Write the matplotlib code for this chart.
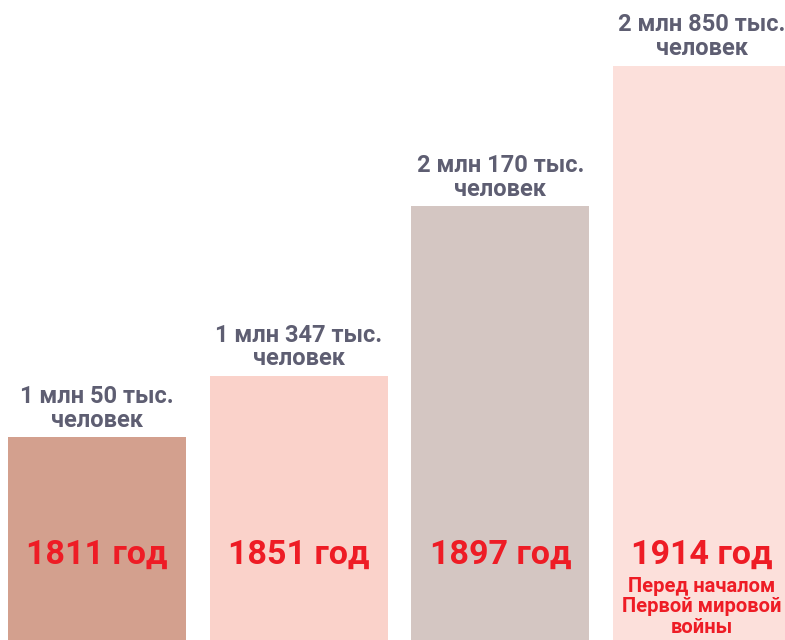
import matplotlib.pyplot as plt

years = ["1811 год", "1851 год", "1897 год", "1914 год"]
population = [1050, 1347, 2170, 2850]  # тыс. человек
labels = ["1 млн 50 тыс.\nчеловек", "1 млн 347 тыс.\nчеловек",
          "2 млн 170 тыс.\nчеловек", "2 млн 850 тыс.\nчеловек"]
note = "Перед началом\nПервой мировой\nвойны"
colors = ["#D3A08E", "#FAD2CA", "#D4C6C2", "#FCE0DB"]

plt.rcParams['font.family'] = ['Roboto', 'DejaVu Sans']

fig = plt.figure(figsize=(7.85, 6.4), dpi=100)
ax = fig.add_axes([0, 0, 1, 1])
x = range(len(years))
ax.bar(x, population, width=0.883, color=colors, bottom=0)
ax.set_xlim(-0.481, 3.411)
ax.set_ylim(68, 68 + 640 / 0.2064)
ax.axis("off")

for i, v in enumerate(population):
    ax.annotate(labels[i], (i, v), xytext=(0, 4), textcoords="offset points",
                ha="center", va="bottom", fontsize=17, fontweight="bold",
                color="#5E5E72", linespacing=1.05)
    ax.annotate(years[i], (i, 68), xytext=(0, 61), textcoords="offset points",
                ha="center", va="center", fontsize=24.5, fontweight="bold",
                color="#EE1C25")

ax.annotate(note, (3, 68), xytext=(0, 2), textcoords="offset points",
            ha="center", va="bottom", fontsize=14.5, fontweight="bold",
            color="#EE1C25", linespacing=1.12)

fig.savefig("out.png", dpi=100)
